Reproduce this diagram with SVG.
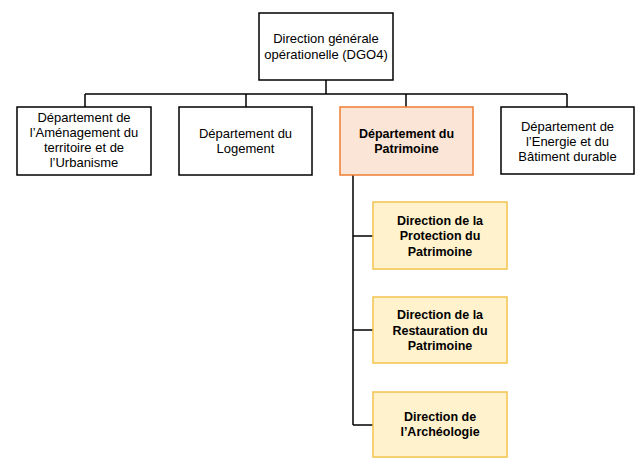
<svg xmlns="http://www.w3.org/2000/svg" width="640" height="462" viewBox="0 0 640 462">
<style>
  .t{font-family:"Liberation Sans",Arial,sans-serif;font-size:13px;fill:#000;text-anchor:middle}
  .b{font-weight:bold;font-size:12.5px}
  .w{fill:#fff;stroke:#000;stroke-width:1.5}
  .o{fill:#fbe5d6;stroke:#ed7d31;stroke-width:1.5}
  .y{fill:#fff2cc;stroke:#f2c44e;stroke-width:1.5}
  .c{fill:none;stroke:#000;stroke-width:1.5}
</style>
<rect width="640" height="462" fill="#fff"/>
<g id="connectors">
  <path class="c" d="M326 80V94M85 94H567M85 94V107M246 94V107M406 94V107M567 94V107"/>
  <path class="c" d="M353 175V425M353 236H373M353 330H373M353 425H373"/>
</g>
<g id="dgo4">
  <rect class="w" x="259" y="13" width="134" height="67"/>
  <text class="t" x="326" y="43">Direction générale</text>
  <text class="t" x="326" y="59">opérationelle (DGO4)</text>
</g>
<g id="amenagement">
  <rect class="w" x="17" y="107" width="134" height="68"/>
  <text class="t" x="84" y="122">Département de</text>
  <text class="t" x="84" y="137">l’Aménagement du</text>
  <text class="t" x="84" y="152">territoire et de</text>
  <text class="t" x="84" y="167">l’Urbanisme</text>
</g>
<g id="logement">
  <rect class="w" x="179" y="107" width="133" height="68"/>
  <text class="t" x="245.5" y="138">Département du</text>
  <text class="t" x="245.5" y="153">Logement</text>
</g>
<g id="patrimoine">
  <rect class="o" x="340" y="107" width="133" height="68"/>
  <text class="t b" x="406.5" y="138">Département du</text>
  <text class="t b" x="406.5" y="153">Patrimoine</text>
</g>
<g id="energie">
  <rect class="w" x="501" y="107" width="133" height="67"/>
  <text class="t" x="567.5" y="131">Département de</text>
  <text class="t" x="567.5" y="146">l’Energie et du</text>
  <text class="t" x="567.5" y="161">Bâtiment durable</text>
</g>
<g id="protection">
  <rect class="y" x="373" y="202" width="134" height="67"/>
  <text class="t b" x="440" y="224.5">Direction de la</text>
  <text class="t b" x="440" y="240">Protection du</text>
  <text class="t b" x="440" y="255.5">Patrimoine</text>
</g>
<g id="restauration">
  <rect class="y" x="373" y="297" width="134" height="66"/>
  <text class="t b" x="440" y="319">Direction de la</text>
  <text class="t b" x="440" y="334.5">Restauration du</text>
  <text class="t b" x="440" y="350">Patrimoine</text>
</g>
<g id="archeologie">
  <rect class="y" x="373" y="392" width="134" height="65"/>
  <text class="t b" x="440" y="421">Direction de</text>
  <text class="t b" x="440" y="436">l’Archéologie</text>
</g>
</svg>
